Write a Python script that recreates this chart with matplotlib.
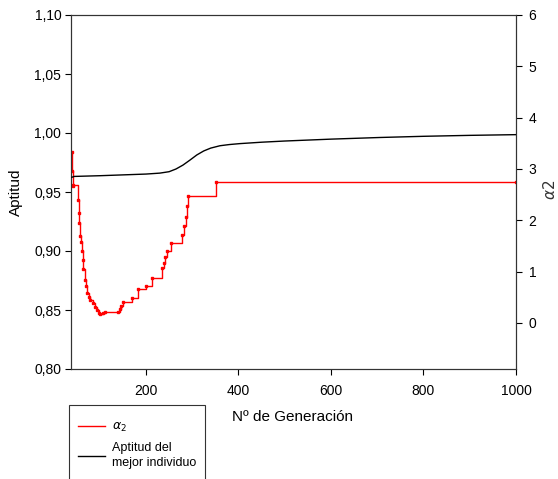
import matplotlib
matplotlib.use("Agg")
import matplotlib.pyplot as plt
from matplotlib.ticker import FuncFormatter
from matplotlib.lines import Line2D
from matplotlib.patches import Rectangle

plt.rcParams['font.family'] = ['Liberation Sans', 'DejaVu Sans']

# Black curve: fitness of best individual (left axis)
gen_fit = [40, 45, 100, 150, 200, 230, 250, 265, 280, 295, 310, 325, 340, 360,
           380, 403, 450, 500, 600, 706, 800, 900, 1000]
fitness = [0.9625, 0.9632, 0.9638, 0.9645, 0.9652, 0.9660, 0.9672, 0.9695, 0.9728,
           0.9770, 0.9814, 0.9848, 0.9872, 0.9892, 0.9902, 0.9910, 0.9922, 0.9932,
           0.9948, 0.9962, 0.9972, 0.9980, 0.9986]

# Red curve: alpha_2 (right axis), step-wise
gen_a2 = [40, 41, 42, 43, 54, 55, 56, 58, 59, 61, 63, 65, 68, 70, 73, 76, 79, 86,
          90, 94, 98, 101, 108, 111, 140, 144, 147, 151, 169, 182, 201, 214, 234,
          238, 241, 246, 255, 279, 283, 287, 289, 292, 351, 1000]
alpha2 = [3.32, 2.95, 2.66, 2.69, 2.40, 2.15, 1.94, 1.70, 1.58, 1.40, 1.23, 1.05,
          0.84, 0.72, 0.58, 0.50, 0.45, 0.38, 0.30, 0.25, 0.20, 0.175, 0.19, 0.21,
          0.22, 0.27, 0.33, 0.415, 0.49, 0.65, 0.72, 0.87, 1.06, 1.16, 1.29, 1.40,
          1.55, 1.72, 1.88, 2.07, 2.27, 2.48, 2.74, 2.74]

x_ticks = [200, 400, 600, 800, 1000]
left_ticks = [0.80, 0.85, 0.90, 0.95, 1.00, 1.05, 1.10]
right_ticks = [0, 1, 2, 3, 4, 5, 6]

fig = plt.figure(figsize=(5.58, 4.79), dpi=100)
ax = fig.add_axes([71/558, 1-369/479, (516-71)/558, (369-15)/479])
ax2 = ax.twinx()

ax.plot(gen_fit, fitness, color='black', lw=1.0, zorder=3)
ax2.plot(gen_a2, alpha2, color='#ff0000', lw=1.0, drawstyle='steps-post',
         marker='s', ms=1.6, mec='#ff0000', mfc='#ff0000')
ax.set_zorder(ax2.get_zorder() + 1)
ax.patch.set_visible(False)

ax.set_xlim(38, 1000)
ax.set_ylim(0.80, 1.10)
ax2.set_ylim(-0.9, 6)
ax.set_xticks(x_ticks)
ax.set_yticks(left_ticks)
ax2.set_yticks(right_ticks)
ax.yaxis.set_major_formatter(FuncFormatter(lambda v, p: f"{v:.2f}".replace('.', ',')))

for a in (ax, ax2):
    a.tick_params(direction='out', length=4, width=0.8, labelsize=10, colors='black')
    for s in a.spines.values():
        s.set_color('#333333')
        s.set_linewidth(0.8)
ax.tick_params(axis='x', pad=7)
ax.tick_params(axis='y', pad=3)
ax2.tick_params(axis='y', pad=5)

ax.set_ylabel('Aptitud', fontsize=11, labelpad=8)
fig.text(293/558, 1-417/479, 'Nº de Generación', fontsize=11, ha='center', va='center')
fig.text(550/558, 1-190/479, r'$\alpha2$', fontsize=11, rotation=90,
         ha='center', va='center', color='#333333')

# Legend box (extends beyond the bottom edge, as in the reference)
fig.patches.append(Rectangle((69/558, -0.05), (205-69)/558, (1-405/479)+0.05,
                             transform=fig.transFigure, fill=False,
                             ec='#333333', lw=0.8, clip_on=False))

handles = [Line2D([], [], color='#ff0000', lw=1.0),
           Line2D([], [], color='black', lw=1.0)]
labels = [r'$\alpha_2$', 'Aptitud del\nmejor individuo']
leg = fig.legend(handles, labels, loc='upper left',
                 bbox_to_anchor=(78/558, 1-421/479), fontsize=9,
                 frameon=False, handlelength=2.2, handletextpad=0.55,
                 borderpad=0, labelspacing=0.6, borderaxespad=0)
for t in leg.get_texts():
    t.set_linespacing(1.4)

fig.savefig('out.png', dpi=100)
